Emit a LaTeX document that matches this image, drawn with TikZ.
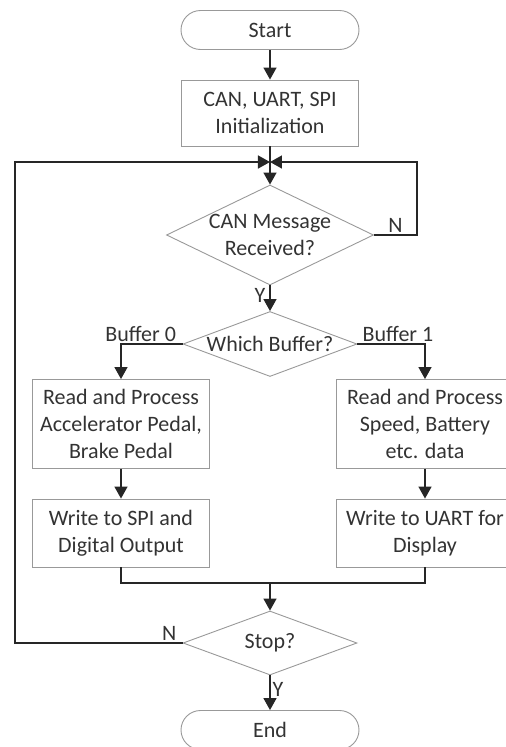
\documentclass[tikz,border=0pt]{standalone}
\usepackage{fontspec}
\setmainfont{Carlito}
\usetikzlibrary{shapes.geometric,arrows.meta}

\begin{document}
\begin{tikzpicture}[
    base/.style = {rectangle, draw=black!40, line width=0.9pt,
minimum width=177pt, text centered, inner sep=0pt},
terminal/.style = {base, rounded corners=19.5pt, minimum width=178pt,
minimum height=39pt},
process/.style = {base, minimum height=68pt},
decision/.style = {diamond, draw=black!40, line width=0.9pt, inner sep=0pt,
minimum width=174pt, minimum height=65pt},
flow/.style = {draw=black!85, line width=1.5pt},
tag/.style = {inner sep=2pt},
node distance=83pt,
every node/.style={font=\fontsize{22}{27}\selectfont, text=black!80}, align=center,
>={Triangle[length=12pt,width=13pt]}
]

  \useasboundingbox (-270pt,30pt) rectangle (236pt,-717pt);

  \node (start)  [terminal] {Start};
  \node (init)   [process, below of=start, minimum height=66pt] {CAN, UART, SPI\\Initialization};
  \coordinate[below of=init, yshift=34pt] (join);
  \node (msg)    [decision, below of=init, yshift=-39pt, minimum width=207pt, minimum height=100pt,
                  label={[align=center]center:CAN Message\\Received?}] {};
  \node (which)  [decision, below of=msg, yshift=-26pt, label=center:Which Buffer?] {};
  \node (readA)  [process, below of=which, yshift=3pt, xshift=-149pt, minimum height=89pt] {Read and Process\\Accelerator Pedal,\\Brake Pedal};
  \node (readB)  [process, below of=which, yshift=3pt, xshift=155pt, minimum height=89pt] {Read and Process\\Speed, Battery\\etc. data};
  \node (writeA) [process, below of=readA, yshift=-26pt] {Write to SPI and\\Digital Output};
  \node (writeB) [process, below of=readB, yshift=-26pt] {Write to UART for\\Display};
  \coordinate[below of=which, yshift=-156pt] (merge);
  \node (stop)   [decision, below of=merge, yshift=23pt, minimum height=64pt, label=center:Stop?] {};
  \node (end)    [terminal, below of=stop, yshift=-4pt] {End};
  \coordinate[left of=stop, xshift=-172pt] (loopL);
  \coordinate[right of=msg, xshift=64pt] (loopR);

  \draw[flow, ->] (start) -- (init);
  \draw[flow]     (init) -- (join);
  \draw[flow, ->] (join) -- (msg);
  \draw[flow, ->] (msg.east) -- node[tag, above] {N} (loopR) |- (join);
  \draw[flow, ->] (msg) -- node[left, pos=0.4, inner sep=4pt] {Y} (which);
  \draw[flow, ->] (which.west) -| node[tag, above, pos=0.34] {Buffer 0} (readA);
  \draw[flow, ->] (which.east) -| node[tag, above, pos=0.3] {Buffer 1} (readB);
  \draw[flow, ->] (readA) -- (writeA);
  \draw[flow, ->] (readB) -- (writeB);
  \draw[flow]     (writeA) |- (merge) -| (writeB);
  \draw[flow, ->] (merge) -- (stop);
  \draw[flow, ->] (stop.west) -- node[tag, above, pos=0.08] {N} (loopL) |- (join);
  \draw[flow, ->] (stop) -- node[tag, right, pos=0.4] {Y} (end);

\end{tikzpicture}
\end{document}
